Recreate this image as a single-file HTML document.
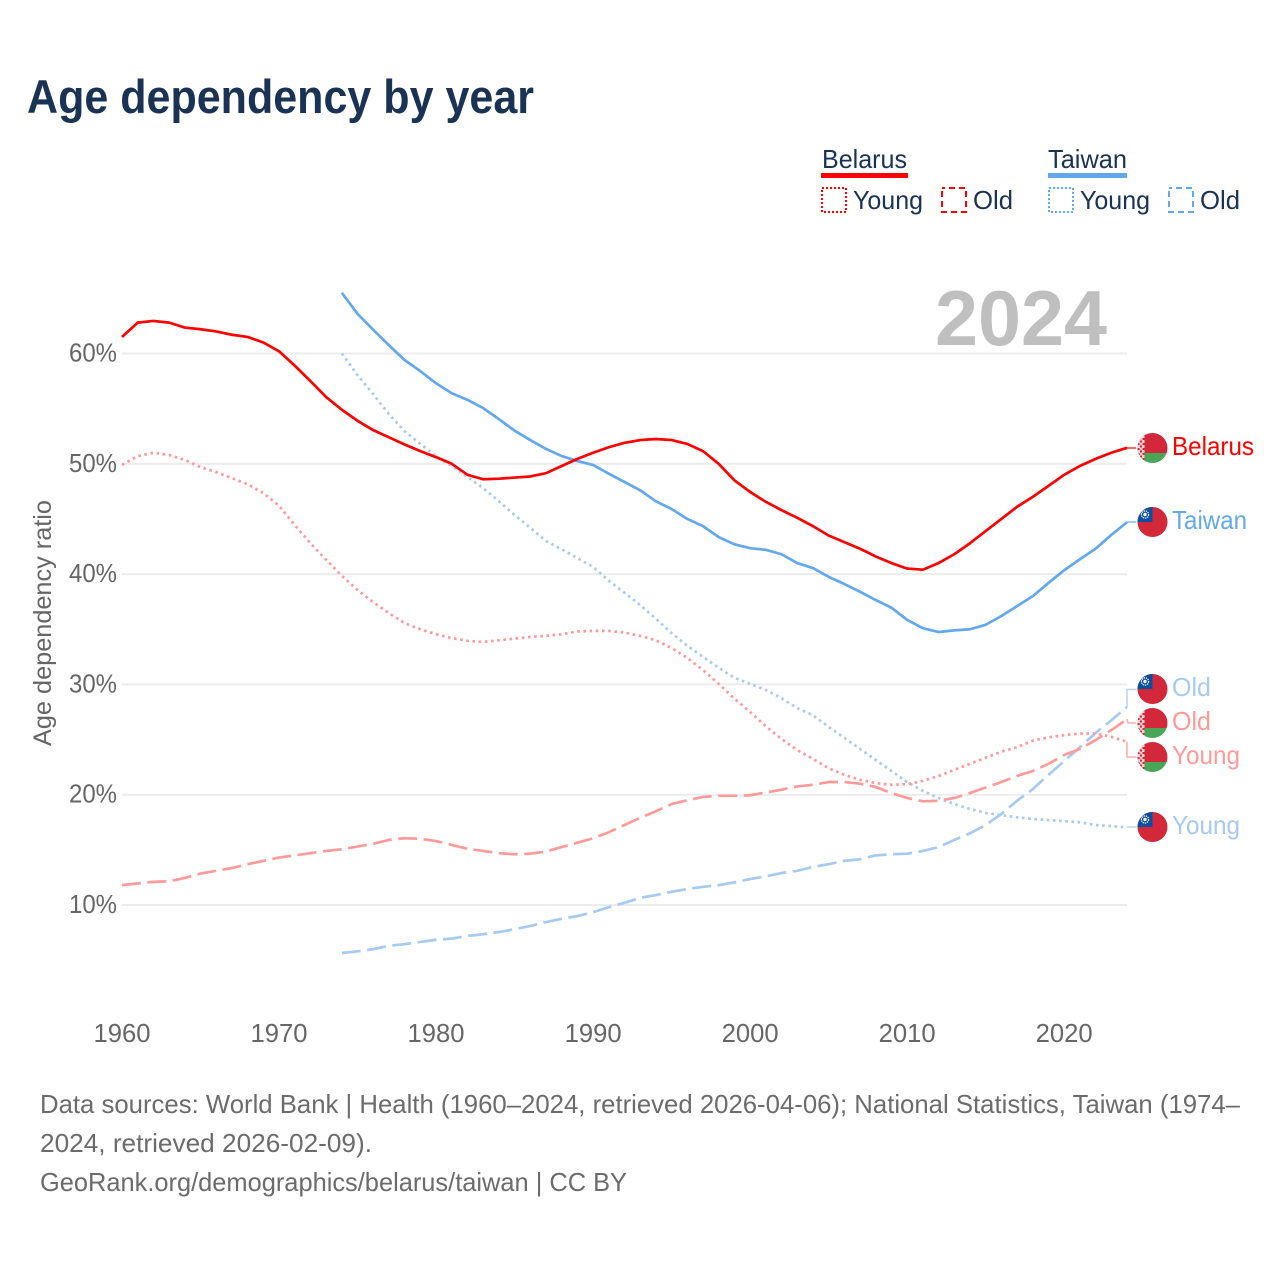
<!DOCTYPE html>
<html lang="en">
<head>
<meta charset="utf-8">
<title>Age dependency by year</title>
<style>
html,body{margin:0;padding:0;background:#fff;}
svg{display:block;font-family:"Liberation Sans",Arial,sans-serif;}
</style>
</head>
<body>
<svg id="chart" width="1280" height="1280" viewBox="0 0 1280 1280" xmlns="http://www.w3.org/2000/svg">
<defs>
<pattern id="by-orn" width="5" height="5" patternUnits="userSpaceOnUse">
<rect width="5" height="5" fill="#f3d3d6"/>
<rect x="0" y="0" width="2" height="2" fill="#d22839"/>
<rect x="2.5" y="2.5" width="2" height="2" fill="#d22839"/>
<rect x="2" y="1" width="1" height="1" fill="#e88"/>
</pattern>
<clipPath id="flag-clip"><circle cx="0" cy="0" r="15"/></clipPath>
</defs>
<rect width="1280" height="1280" fill="#fff"/>
<text x="27" y="113" font-size="47" font-weight="700" fill="#1a3253" textLength="507" lengthAdjust="spacingAndGlyphs">Age dependency by year</text>

<g>
<g>
<text x="822" y="168" font-size="26" fill="#1a3253" textLength="85" lengthAdjust="spacingAndGlyphs">Belarus</text>
<rect x="821" y="173" width="87" height="5" fill="#ff0000"/>
<rect x="822" y="188" width="24" height="24" fill="none" stroke="#ff0000" stroke-width="2" stroke-dasharray="2 2"/>
<text x="853" y="209" font-size="26" fill="#1a3253" textLength="70" lengthAdjust="spacingAndGlyphs">Young</text>
<rect x="942" y="188" width="24" height="24" fill="none" stroke="#ff0000" stroke-width="2" stroke-dasharray="6 4" stroke-dashoffset="3"/>
<text x="973" y="209" font-size="26" fill="#1a3253" textLength="40" lengthAdjust="spacingAndGlyphs">Old</text>
</g>
<g>
<text x="1048" y="168" font-size="26" fill="#1a3253" textLength="79" lengthAdjust="spacingAndGlyphs">Taiwan</text>
<rect x="1048" y="173" width="79" height="5" fill="#64a8ec"/>
<rect x="1049" y="188" width="24" height="24" fill="none" stroke="#64a8ec" stroke-width="2" stroke-dasharray="2 2"/>
<text x="1080" y="209" font-size="26" fill="#1a3253" textLength="70" lengthAdjust="spacingAndGlyphs">Young</text>
<rect x="1169" y="188" width="24" height="24" fill="none" stroke="#64a8ec" stroke-width="2" stroke-dasharray="6 4" stroke-dashoffset="3"/>
<text x="1200" y="209" font-size="26" fill="#1a3253" textLength="40" lengthAdjust="spacingAndGlyphs">Old</text>
</g>
</g>

<text transform="translate(51,746) rotate(-90)" font-size="25" fill="#666" textLength="246" lengthAdjust="spacingAndGlyphs">Age dependency ratio</text>

<g id="grid"></g>
<g id="yticks"></g>
<g id="xticks"></g>

<text x="935" y="345" font-size="78" font-weight="700" fill="#bfbfbf" textLength="172" lengthAdjust="spacingAndGlyphs">2024</text>

<g id="series"></g>
<g id="flags"></g>

<g>
<text x="1172" y="455" font-size="26" fill="#ff0000" textLength="82" lengthAdjust="spacingAndGlyphs">Belarus</text>
<text x="1172" y="529" font-size="26" fill="#64a8ec" textLength="75" lengthAdjust="spacingAndGlyphs">Taiwan</text>
<text x="1172" y="696" font-size="26" fill="#a6caf0" textLength="39" lengthAdjust="spacingAndGlyphs">Old</text>
<text x="1172" y="730" font-size="26" fill="#ff9a9a" textLength="39" lengthAdjust="spacingAndGlyphs">Old</text>
<text x="1172" y="764" font-size="26" fill="#ff9a9a" textLength="68" lengthAdjust="spacingAndGlyphs">Young</text>
<text x="1172" y="834" font-size="26" fill="#a6caf0" textLength="68" lengthAdjust="spacingAndGlyphs">Young</text>
</g>

<g>
<text x="40" y="1113" font-size="26" fill="#6b6b6b" textLength="1200" lengthAdjust="spacingAndGlyphs">Data sources: World Bank | Health (1960–2024, retrieved 2026-04-06); National Statistics, Taiwan (1974–</text>
<text x="40" y="1152" font-size="26" fill="#6b6b6b" textLength="332" lengthAdjust="spacingAndGlyphs">2024, retrieved 2026-02-09).</text>
<text x="40" y="1191" font-size="26" fill="#6b6b6b" textLength="587" lengthAdjust="spacingAndGlyphs">GeoRank.org/demographics/belarus/taiwan | CC BY</text>
</g>

<script>
const yTickValues = [10, 20, 30, 40, 50, 60];
const xTickYears = [1960, 1970, 1980, 1990, 2000, 2010, 2020];
const belarusFirstYear = 1960;
const taiwanFirstYear = 1974;
const belarusTotal = [61.5,62.8,62.95,62.8,62.35,62.2,62,61.7,61.5,61,60.2,58.9,57.5,56.05,54.9,53.9,53.05,52.4,51.75,51.15,50.6,50,49,48.6,48.65,48.75,48.85,49.15,49.8,50.45,51,51.5,51.9,52.15,52.25,52.15,51.8,51.15,50,48.5,47.45,46.55,45.8,45.1,44.35,43.5,42.9,42.3,41.6,41,40.5,40.4,41,41.8,42.8,43.9,45,46.1,47,48,49,49.8,50.45,51,51.45];
const belarusYoung = [49.9,50.7,51,50.8,50.35,49.7,49.25,48.7,48.15,47.35,46.2,44.45,42.8,41.3,39.85,38.55,37.45,36.45,35.55,35,34.55,34.2,33.95,33.85,34,34.15,34.3,34.4,34.55,34.8,34.85,34.85,34.7,34.4,34,33.3,32.4,31.3,30.05,28.7,27.5,26.2,25.05,24.05,23.25,22.4,21.8,21.35,21.05,20.9,20.95,21.25,21.7,22.25,22.8,23.35,23.9,24.3,24.9,25.2,25.4,25.55,25.55,25.25,24.8];
const belarusOld = [11.8,11.95,12.1,12.15,12.45,12.85,13.1,13.35,13.7,14,14.3,14.5,14.7,14.9,15.05,15.3,15.55,15.9,16.05,16,15.8,15.45,15.1,14.9,14.7,14.6,14.65,14.85,15.25,15.65,16.05,16.6,17.25,17.9,18.5,19.15,19.5,19.8,19.9,19.9,19.95,20.2,20.45,20.75,20.9,21.15,21.15,21,20.7,20.15,19.7,19.4,19.45,19.7,20.15,20.65,21.15,21.7,22.15,22.8,23.6,24.15,24.95,25.85,26.85];
const taiwanTotal = [65.5,63.6,62.15,60.75,59.4,58.4,57.3,56.4,55.8,55.05,54.05,53,52.15,51.35,50.7,50.25,49.9,49.1,48.35,47.6,46.6,45.9,45,44.35,43.35,42.7,42.35,42.2,41.8,41,40.55,39.75,39.1,38.4,37.65,36.95,35.85,35.1,34.75,34.9,35,35.4,36.2,37.1,38,39.2,40.35,41.35,42.3,43.55,44.7];
const taiwanYoung = [60,58.05,56.3,54.5,52.95,51.8,50.7,49.8,48.8,47.8,46.6,45.35,44.2,43,42.25,41.45,40.65,39.4,38.3,37.2,35.95,34.65,33.5,32.5,31.5,30.6,30.05,29.5,28.75,27.85,27.2,26.15,25.15,24.15,23.15,22.15,21.15,20.35,19.7,19.15,18.7,18.35,18.15,17.95,17.8,17.7,17.6,17.5,17.25,17.15,17.05];
const taiwanOld = [5.65,5.8,6,6.3,6.45,6.65,6.85,6.95,7.2,7.35,7.55,7.8,8.1,8.45,8.75,9,9.35,9.8,10.2,10.65,10.9,11.2,11.45,11.65,11.8,12.05,12.35,12.6,12.9,13.1,13.45,13.7,14,14.15,14.5,14.6,14.65,14.9,15.25,15.9,16.5,17.25,18.25,19.45,20.5,21.8,23.05,24.3,25.6,26.75,27.95];

const NS = 'http://www.w3.org/2000/svg';
const xScale = function (year) { return 122 + (year - 1960) * 15.703; };
const yScale = function (v) { return 905 - (v - 10) * 11.03; };
const plotRight = xScale(2024);
const flagX = 1152.5;
const connectorEnd = 1136;
const DOTTED = '2.6 3.6';
const DASHED = '19 6.5';

function make(tag, attrs, parent) {
  const el = document.createElementNS(NS, tag);
  for (const k in attrs) el.setAttribute(k, attrs[k]);
  parent.appendChild(el);
  return el;
}

const gridG = document.getElementById('grid');
const yG = document.getElementById('yticks');
const xG = document.getElementById('xticks');
yTickValues.forEach(function (v) {
  const line = make('line', {x1: 122, x2: plotRight, y1: yScale(v), y2: yScale(v), stroke: '#ececec', 'stroke-width': 2}, gridG);
  
  
  const t = make('text', {x: 117, y: yScale(v) + 8, 'text-anchor': 'end', 'font-size': 26, fill: '#666', textLength: 48, lengthAdjust: 'spacingAndGlyphs'}, yG);
  
  
  t.textContent = v + '%';
});
xTickYears.forEach(function (year) {
  const t = make('text', {x: xScale(year), y: 1042, 'text-anchor': 'middle', 'font-size': 26, fill: '#666', textLength: 57, lengthAdjust: 'spacingAndGlyphs'}, xG);
  
  
  t.textContent = year;
});

const seriesG = document.getElementById('series');
function drawSeries(values, firstYear, color, dash, labelY) {
  const pts = values.map(function (v, i) {
    return xScale(firstYear + i).toFixed(2) + ',' + yScale(v).toFixed(2);
  }).join(' ');
  const line = make('polyline', {points: pts, fill: 'none', stroke: color, 'stroke-width': 2.7, 'stroke-linejoin': 'round'}, seriesG);
  if (dash) line.setAttribute('stroke-dasharray', dash);
  
  
  const endY = yScale(values[values.length - 1]);
  const d = Math.abs(endY - labelY) > 6
    ? 'M' + plotRight + ' ' + endY + 'V' + labelY + 'H' + connectorEnd
    : 'M' + plotRight + ' ' + endY + 'L' + (plotRight + 1) + ' ' + labelY + 'H' + connectorEnd;
  const c = make('path', {d: d, fill: 'none', stroke: color, 'stroke-width': 1.6, opacity: 0.8}, seriesG);
  
  
}
drawSeries(taiwanOld, taiwanFirstYear, '#a6caf0', DASHED, 689.5);
drawSeries(taiwanYoung, taiwanFirstYear, '#a6caf0', DOTTED, 827);
drawSeries(taiwanTotal, taiwanFirstYear, '#64a8ec', null, 522);
drawSeries(belarusOld, belarusFirstYear, '#ff9a9a', DASHED, 723);
drawSeries(belarusYoung, belarusFirstYear, '#ff9a9a', DOTTED, 757);
drawSeries(belarusTotal, belarusFirstYear, '#ff0000', null, 448);

const flagsG = document.getElementById('flags');
function belarusFlag(cy) {
  const g = make('g', {transform: 'translate(' + flagX + ',' + cy + ')', 'clip-path': 'url(#flag-clip)'}, flagsG);
  
  
  make('rect', {x: -15, y: -15, width: 30, height: 20, fill: '#d22839'}, g);
  make('rect', {x: -15, y: 5, width: 30, height: 10, fill: '#4aa657'}, g);
  make('rect', {x: -15, y: -15, width: 7, height: 30, fill: 'url(#by-orn)'}, g);
}
function taiwanFlag(cy) {
  const g = make('g', {transform: 'translate(' + flagX + ',' + cy + ')', 'clip-path': 'url(#flag-clip)'}, flagsG);
  
  
  make('rect', {x: -15, y: -15, width: 30, height: 30, fill: '#d22839'}, g);
  make('rect', {x: -15, y: -15, width: 15, height: 15, fill: '#0b4ea2'}, g);
  make('circle', {cx: -7.5, cy: -7.5, r: 3.6, fill: 'none', stroke: '#fff', 'stroke-width': 1.2, 'stroke-dasharray': '1.4 0.8'}, g);
  make('circle', {cx: -7.5, cy: -7.5, r: 1.7, fill: '#fff'}, g);
}
belarusFlag(448);
taiwanFlag(522);
taiwanFlag(689);
belarusFlag(723);
belarusFlag(757);
taiwanFlag(827);
</script>
</svg>
</body>
</html>
